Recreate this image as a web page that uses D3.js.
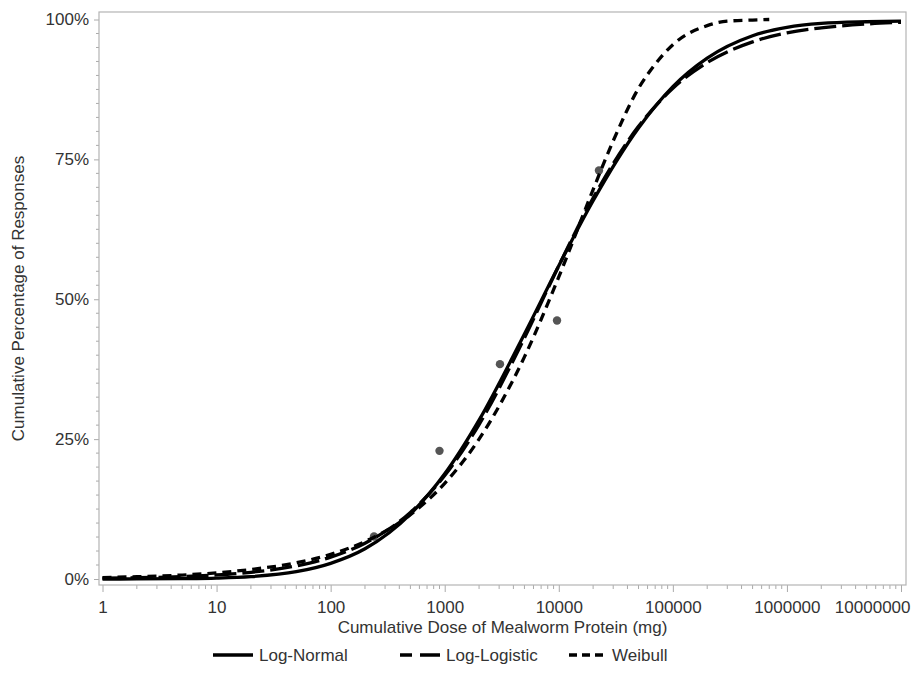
<!DOCTYPE html>
<html lang="en">
<head>
<meta charset="UTF-8">
<title>Cumulative dose response</title>
<script src="https://cdn.jsdelivr.net/npm/d3@7"></script>
<style>
  body { margin: 0; background: #fff; }
  svg text { font-family: "Liberation Sans", Arial, sans-serif; fill: #333; }
</style>
</head>
<body>
<div id="root"></div>
<script>
// doses (mg) the curves were read at
var doseGrid = [1, 2, 5, 10, 20, 50, 100, 200, 500, 1000, 2000, 5000, 10000, 20000,
                50000, 100000, 200000, 500000, 1000000, 2000000, 5000000, 10000000]
var logNormal = [0.0, 0.01, 0.06, 0.16, 0.42, 1.3, 2.8, 5.4, 11.6, 18.8, 28.4, 43.8, 56.0, 67.6,
                 80.6, 88.0, 93.1, 97.1, 98.6, 99.3, 99.6, 99.7]
var logLogistic = [0.13, 0.22, 0.43, 0.72, 1.2, 2.35, 3.9, 6.4, 11.9, 18.5, 27.6, 43.1, 56.0, 68.1,
                   80.9, 87.7, 92.3, 96.0, 97.6, 98.5, 99.2, 99.5]
var weibullDose = [1, 2, 5, 10, 20, 50, 100, 200, 500, 1000, 2000, 5000, 10000, 20000,
                   30000, 50000, 70000, 100000, 200000, 300000, 500000, 700000]
var weibull = [0.26, 0.41, 0.71, 1.1, 1.7, 2.9, 4.4, 6.7, 11.5, 17.1, 25.0, 39.7, 54.0, 69.6,
               78.3, 87.7, 92.0, 95.5, 98.9, 99.7, 99.9, 100]

// observed responses
var obsDose = [240, 900, 3050, 9650, 22500]
var obsPct = [7.6, 22.9, 38.4, 46.2, 73.0]

var xTicks = [1, 10, 100, 1000, 10000, 100000, 1000000, 10000000]
var yTicks = [0, 25, 50, 75, 100]
var seriesNames = ['Log-Normal', 'Log-Logistic', 'Weibull']

var width = 913, height = 685
var frame = {left: 99, top: 12, right: 906, bottom: 585}

var svg = d3.select('#root').append('svg')
    .attr('width', width)
    .attr('height', height)

var x = d3.scaleLog().domain([1, 10000000]).range([102.5, 901])
var y = d3.scaleLinear().domain([0, 100]).range([579, 19.5])

// minor ticks
var xMinor = []
for (var e = 0; e < 7; e++) {
    for (var m = 2; m <= 9; m++) xMinor.push(m * Math.pow(10, e))
}
var yMinor = d3.range(0, 100.1, 2.5).filter(function(v) { return v % 25 !== 0 })

var gx = svg.append('g').attr('transform', 'translate(0,' + frame.bottom + ')')
gx.call(d3.axisBottom(x).tickValues(xTicks).tickFormat(d3.format('d')).tickSize(7))
gx.select('.domain').remove()
gx.selectAll('.tick line').attr('stroke', '#aaa')
gx.selectAll('.tick text')
    .style('font-size', '17px').attr('fill', '#333')
    .attr('dy', null).attr('y', 28)
// the last label is pulled in so it stays inside the picture
gx.selectAll('.tick text').filter(function(d) { return d === 10000000 })
    .attr('text-anchor', 'end').attr('x', 910 - x(10000000))
gx.selectAll('.minor').data(xMinor).enter().append('line')
    .attr('x1', function(d) { return x(d) }).attr('x2', function(d) { return x(d) })
    .attr('y1', 0).attr('y2', 4).attr('stroke', '#aaa')

var gy = svg.append('g').attr('transform', 'translate(' + frame.left + ',0)')
gy.call(d3.axisLeft(y).tickValues(yTicks).tickFormat(function(d) { return d + '%' }).tickSize(5).tickPadding(5))
gy.select('.domain').remove()
gy.selectAll('.tick line').attr('stroke', '#aaa')
gy.selectAll('.tick text').style('font-size', '17px').attr('fill', '#333')
gy.selectAll('.minor').data(yMinor).enter().append('line')
    .attr('y1', function(d) { return y(d) }).attr('y2', function(d) { return y(d) })
    .attr('x1', 0).attr('x2', -3).attr('stroke', '#aaa')

svg.append('rect')
    .attr('x', frame.left).attr('y', frame.top)
    .attr('width', frame.right - frame.left).attr('height', frame.bottom - frame.top)
    .attr('fill', 'none').attr('stroke', '#b4b4b4').attr('stroke-width', 1.2)

// axis titles
svg.append('text')
    .attr('x', (frame.left + frame.right) / 2).attr('y', 633)
    .attr('text-anchor', 'middle').style('font-size', '17px')
    .text('Cumulative Dose of Mealworm Protein (mg)')
svg.append('text')
    .attr('transform', 'translate(24,' + ((frame.top + frame.bottom) / 2) + ') rotate(-90)')
    .attr('text-anchor', 'middle').style('font-size', '17px')
    .text('Cumulative Percentage of Responses')

var line = d3.line()
    .x(function(d) { return x(d[0]) })
    .y(function(d) { return y(d[1]) })
    .curve(d3.curveMonotoneX)

var dashes = ['none', '22,6', '9,6']
var curves = [
    d3.zip(doseGrid, logNormal),
    d3.zip(doseGrid, logLogistic),
    d3.zip(weibullDose, weibull)
]

svg.append('g').selectAll('circle')
    .data(d3.zip(obsDose, obsPct))
    .enter().append('circle')
    .attr('cx', function(d) { return x(d[0]) })
    .attr('cy', function(d) { return y(d[1]) })
    .attr('r', 4.2)
    .attr('fill', '#555')

svg.append('g').selectAll('path')
    .data(curves)
    .enter().append('path')
    .attr('d', line)
    .attr('fill', 'none')
    .attr('stroke', '#000')
    .attr('stroke-width', 3.3)
    .attr('stroke-dasharray', function(d, i) { return dashes[i] })

// legend
var legendX = [213, 400, 569]
var legend = svg.append('g')
var items = legend.selectAll('g').data(seriesNames).enter().append('g')
    .attr('transform', function(d, i) { return 'translate(' + legendX[i] + ',655)' })
items.append('line')
    .attr('x1', 0).attr('x2', function(d, i) { return i === 2 ? 34 : 40 })
    .attr('y1', 0).attr('y2', 0)
    .attr('stroke', '#000').attr('stroke-width', 3.3)
    .attr('stroke-dasharray', function(d, i) { return i === 1 ? '12,8,20' : (i === 2 ? '8,5' : 'none') })
items.append('text')
    .attr('x', function(d, i) { return i === 2 ? 43 : 46 })
    .attr('y', 6)
    .style('font-size', '17px')
    .text(function(d) { return d })
</script>
</body>
</html>
